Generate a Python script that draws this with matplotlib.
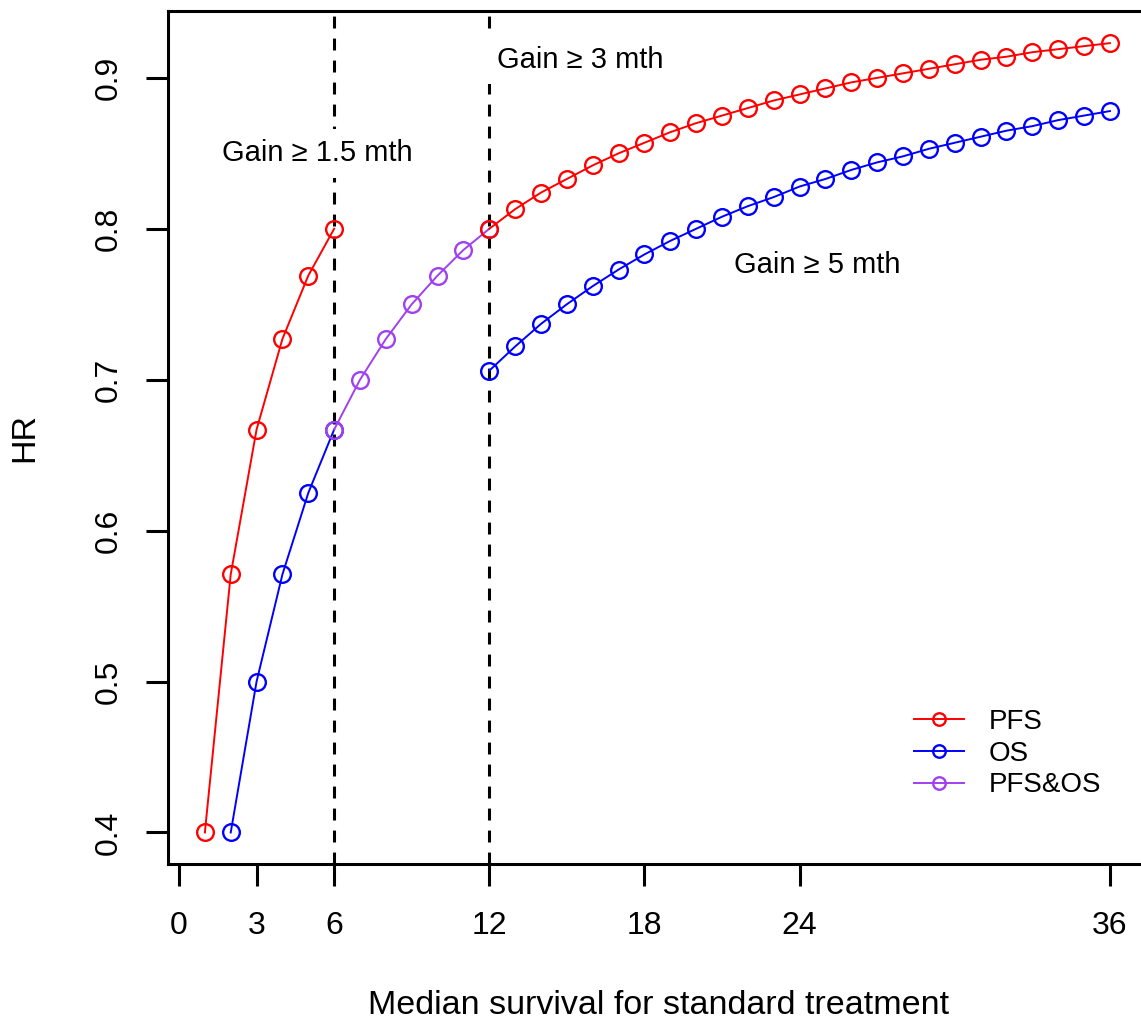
"""HR needed for a given median-survival gain vs median survival on standard treatment."""

import matplotlib

matplotlib.use("Agg")

import matplotlib.pyplot as plt  # noqa: E402

plt.rcParams["font.family"] = ["Liberation Sans", "DejaVu Sans"]

# PFS, gain >= 1.5 months (median 1..6)
pfs_early_x = [1, 2, 3, 4, 5, 6]
pfs_early_hr = [0.400, 0.571, 0.667, 0.727, 0.769, 0.800]

# OS, gain >= 3 months (median 2..6)
os_early_x = [2, 3, 4, 5, 6]
os_early_hr = [0.400, 0.500, 0.571, 0.625, 0.667]

# PFS & OS, gain >= 3 months (median 6..12)
both_x = [6, 7, 8, 9, 10, 11, 12]
both_hr = [0.667, 0.700, 0.727, 0.750, 0.769, 0.786, 0.800]

# PFS, gain >= 3 months (median 12..36)
pfs_late_x = list(range(12, 37))
pfs_late_hr = [0.800, 0.813, 0.824, 0.833, 0.842, 0.850, 0.857, 0.864, 0.870,
               0.875, 0.880, 0.885, 0.889, 0.893, 0.897, 0.900, 0.903, 0.906,
               0.909, 0.912, 0.914, 0.917, 0.919, 0.921, 0.923]

# OS, gain >= 5 months (median 12..36)
os_late_x = list(range(12, 37))
os_late_hr = [0.706, 0.722, 0.737, 0.750, 0.762, 0.773, 0.783, 0.792, 0.800,
              0.808, 0.815, 0.821, 0.828, 0.833, 0.839, 0.844, 0.848, 0.853,
              0.857, 0.861, 0.865, 0.868, 0.872, 0.875, 0.878]

x_ticks = [0, 3, 6, 12, 18, 24, 36]
y_ticks = [0.4, 0.5, 0.6, 0.7, 0.8, 0.9]
cutoffs = [6, 12]

RED = "#ff0000"
BLUE = "#0000ff"
PURPLE = "#a040f0"

fig = plt.figure(figsize=(11.41, 10.27), dpi=100)
ax = fig.add_axes([0.1475, 0.1587, 0.857, 0.8306])

line_kw = dict(lw=1.4, marker="o", ms=12, mfc="none", mew=1.7)

ax.plot(pfs_early_x, pfs_early_hr, color=RED, label="PFS", zorder=4, **line_kw)
ax.plot(os_early_x, os_early_hr, color=BLUE, label="OS", zorder=3, **line_kw)
ax.plot(both_x, both_hr, color=PURPLE, label="PFS&OS", zorder=4, **line_kw)
ax.plot(pfs_late_x, pfs_late_hr, color=RED, zorder=5, **line_kw)
ax.plot(os_late_x, os_late_hr, color=BLUE, zorder=3, **line_kw)

for cx in cutoffs:
    ax.axvline(cx, color="black", lw=2.2, ls=(0, (3.9, 3.3)), zorder=1)

box = dict(boxstyle="square,pad=0.35", fc="white", ec="none")
ax.text(5.33, 0.850, "Gain ≥ 1.5 mth", fontsize=21, ha="center", va="center",
        bbox=box, zorder=6)
ax.text(12.3, 0.912, "Gain ≥ 3 mth", fontsize=21, ha="left", va="center",
        bbox=box, zorder=6)
ax.text(24.7, 0.776, "Gain ≥ 5 mth", fontsize=21, ha="center", va="center",
        zorder=6)

ax.set_xlim(-0.414, 37.4)
ax.set_ylim(0.3791, 0.9443)
ax.set_xticks(x_ticks)
ax.set_xticklabels([str(t) for t in x_ticks])
ax.set_yticks(y_ticks)
ax.set_yticklabels([f"{t:.1f}" for t in y_ticks], rotation=90, va="center")
ax.tick_params(axis="both", direction="out", length=16, width=2.2, labelsize=23)
ax.tick_params(axis="x", pad=18)
ax.tick_params(axis="y", pad=16)
for side in ("left", "top", "bottom", "right"):
    ax.spines[side].set_linewidth(2.2)

fig.text(0.577, 1 - 1005 / 1027, "Median survival for standard treatment",
         fontsize=24.5, ha="center", va="center")
fig.text(25 / 1141, 1 - 437 / 1027, "HR", fontsize=24.5, rotation=90,
         ha="center", va="center")

ax.legend(loc="upper left", bbox_to_anchor=(903 / 1141, 1 - 698 / 1027),
          bbox_transform=fig.transFigure, frameon=False, fontsize=20,
          handlelength=1.8, handletextpad=0.9, labelspacing=0.2,
          markerscale=0.75, borderaxespad=0)

fig.savefig("out.png", dpi=100)
